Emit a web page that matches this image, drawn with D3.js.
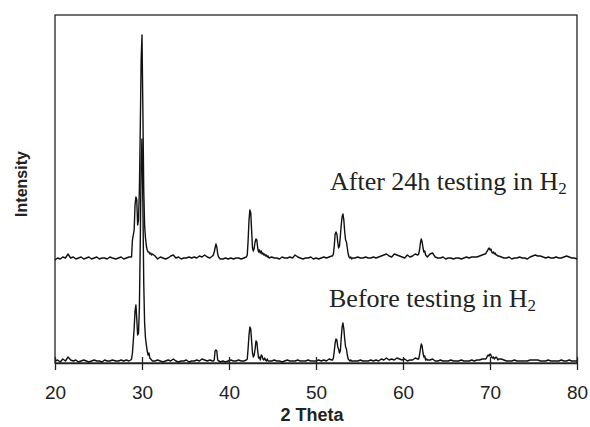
<!DOCTYPE html>
<html>
<head>
<meta charset="utf-8">
<script src="https://cdn.jsdelivr.net/npm/d3@7"></script>
<style>
  body { margin: 0; background: #fff; }
  svg { display: block; }
</style>
</head>
<body>
<div id="chart"></div>
<script>
// 2 theta grid (coarse on the background, finer around the peaks)
const twoTheta = [
  20.0, 20.3, 20.6, 20.9, 21.2, 21.5, 21.8, 22.1, 22.4, 22.7, 23.0, 23.3, 23.6, 23.9, 24.2,
  24.5, 24.8, 25.1, 25.4, 25.7, 26.0, 26.3, 26.6, 27.0, 27.3, 27.6, 27.9, 28.2, 28.5, 28.7,
  28.8, 28.9, 29.0, 29.1, 29.2, 29.3, 29.4, 29.5, 29.6, 29.7, 29.8, 29.9, 30.0, 30.1, 30.2,
  30.3, 30.4, 30.5, 30.6, 30.7, 30.8, 30.9, 31.0, 31.1, 31.2,
  31.5, 31.8, 32.1, 32.4, 32.7, 33.0, 33.3, 33.6, 33.9, 34.2, 34.5, 34.8, 35.1, 35.4, 35.7,
  36.0, 36.3, 36.6, 36.9, 37.2, 37.5, 37.8, 38.1,
  38.2, 38.3, 38.4, 38.5, 38.6, 38.7, 38.8, 38.9, 39.0,
  39.3, 39.6, 39.9, 40.2, 40.5, 40.8, 41.1, 41.4, 41.7, 42.0,
  42.1, 42.2, 42.3, 42.4, 42.5, 42.6, 42.7, 42.8, 42.9, 43.0, 43.1, 43.2, 43.3, 43.4, 43.5,
  43.6, 43.7, 43.8, 43.9, 44.0, 44.1, 44.2, 44.3, 44.4, 44.5, 44.6,
  44.9, 45.2, 45.5, 45.8, 46.1, 46.4, 46.7, 47.0, 47.3, 47.6, 47.9, 48.2, 48.5, 48.8, 49.1,
  49.4, 49.7, 50.0, 50.3, 50.6, 50.9, 51.2, 51.5, 51.8,
  51.9, 52.0, 52.1, 52.2, 52.3, 52.4, 52.5, 52.6, 52.7, 52.8, 52.9, 53.0, 53.1, 53.2, 53.3,
  53.4, 53.5, 53.6, 53.7, 53.8, 53.9, 54.0, 54.1, 54.2,
  54.5, 54.8, 55.1, 55.4, 55.7, 56.0, 56.3, 56.6, 56.9, 57.2, 57.5, 57.8, 58.1, 58.4, 58.7,
  59.0, 59.3, 59.6, 59.9, 60.2, 60.5, 60.8, 61.1, 61.4, 61.7,
  61.8, 61.9, 62.0, 62.1, 62.2, 62.3, 62.4, 62.5, 62.6, 62.7, 62.8,
  63.1, 63.4, 63.7, 64.0, 64.3, 64.6, 64.9, 65.2, 65.5, 65.8, 66.1, 66.4, 66.7, 67.0, 67.3,
  67.6, 67.9, 68.2, 68.5, 68.8, 69.1, 69.4,
  69.5, 69.6, 69.7, 69.8, 69.9, 70.0, 70.1, 70.2, 70.3, 70.4, 70.5, 70.6, 70.7, 70.8, 70.9, 71.0,
  71.3, 71.6, 71.9, 72.2, 72.5, 72.8, 73.1, 73.4, 73.7, 74.0, 74.3, 74.6, 74.9, 75.2, 75.5,
  75.8, 76.1, 76.4, 76.7, 77.0, 77.3, 77.6, 77.9, 78.2, 78.5, 78.8, 79.1, 79.4, 79.7, 80.0
];

// intensity before testing (arbitrary units)
const beforeCounts = [
  2, 3, 1, 4, 2, 6, 3, 2, 3, 1, 2, 3, 2, 1, 2,
  3, 2, 2, 1, 3, 2, 2, 3, 2, 2, 3, 2, 3, 2, 3,
  4, 10, 22, 35, 52, 58, 44, 28, 30, 55, 120, 200, 224, 160, 80,
  40, 25, 18, 12, 8, 10, 5, 4, 3, 2,
  2, 3, 2, 1, 2, 3, 2, 4, 2, 1, 2, 2, 3, 1, 2,
  2, 3, 2, 4, 3, 2, 3, 2,
  2, 3, 12, 13, 12, 3, 2, 2, 1,
  2, 1, 2, 3, 2, 2, 3, 2, 2, 3,
  4, 15, 28, 36, 34, 22, 10, 6, 8, 14, 22, 21, 12, 5, 6,
  3, 8, 7, 4, 3, 5, 3, 2, 4, 2, 2,
  2, 3, 2, 2, 1, 2, 3, 2, 2, 2, 3, 2, 2, 2, 3,
  2, 2, 2, 3, 2, 3, 2, 4, 3,
  3, 5, 12, 20, 24, 23, 16, 14, 10, 12, 25, 36, 40, 34, 24,
  16, 14, 8, 4, 3, 2, 3, 2, 2,
  2, 2, 3, 2, 2, 2, 3, 2, 3, 2, 4, 3, 5, 3, 4,
  3, 5, 4, 3, 4, 2, 3, 3, 5, 4,
  4, 8, 14, 19, 17, 10, 6, 7, 3, 4, 3,
  3, 4, 2, 2, 3, 2, 2, 2, 3, 2, 2, 2, 3, 2, 2,
  2, 3, 2, 3, 3, 4, 4,
  4, 5, 7, 8, 7, 9, 8, 6, 5, 6, 4, 5, 6, 5, 3, 4,
  4, 3, 2, 2, 2, 3, 2, 2, 2, 2, 2, 3, 3, 3, 3,
  2, 2, 2, 3, 2, 2, 2, 2, 3, 2, 2, 3, 2, 2, 2
];

// intensity after 24h testing in H2 (arbitrary units, before stacking)
const afterCounts = [
  0, 2, 1, 3, 2, 6, 2, 3, 1, 2, 3, 1, 2, 3, 1,
  2, 3, 1, 2, 2, 1, 3, 2, 1, 2, 3, 1, 2, 3, 3,
  3, 20, 25, 30, 55, 63, 60, 35, 40, 70, 130, 200, 225, 150, 70,
  35, 22, 14, 10, 8, 8, 6, 7, 5, 6,
  4, 1, 3, 2, 1, 2, 4, 5, 2, 3, 1, 2, 2, 3, 2,
  3, 2, 4, 3, 5, 3, 2, 4,
  5, 8, 12, 16, 13, 6, 3, 2, 1,
  1, 2, 1, 2, 1, 2, 2, 1, 2, 3,
  5, 20, 40, 50, 47, 30, 12, 9, 12, 18, 21, 20, 12, 8, 10,
  7, 9, 6, 7, 5, 6, 4, 5, 3, 4, 2,
  3, 2, 2, 1, 3, 2, 2, 3, 2, 5, 3, 2, 1, 2, 2,
  3, 1, 2, 1, 2, 3, 2, 3, 4,
  4, 6, 14, 26, 28, 26, 18, 12, 14, 24, 35, 43, 46, 40, 28,
  20, 18, 12, 6, 3, 2, 3, 1, 2,
  2, 3, 2, 2, 3, 2, 2, 3, 2, 3, 4, 5, 6, 4, 3,
  6, 5, 4, 3, 2, 5, 3, 4, 6, 5,
  6, 10, 17, 21, 18, 12, 8, 9, 5, 4, 3,
  6, 7, 3, 2, 2, 3, 1, 2, 2, 1, 2, 2, 1, 2, 3,
  2, 3, 3, 3, 4, 5, 6,
  6, 8, 9, 11, 12, 10, 11, 8, 7, 8, 6, 7, 5, 5, 4, 4,
  3, 2, 2, 3, 1, 2, 2, 3, 2, 2, 1, 3, 4, 5, 4,
  4, 3, 2, 3, 2, 2, 3, 2, 2, 3, 4, 3, 2, 2, 1
];

const afterOffset = 103;   // vertical stacking of the second pattern
const xTicks = [20, 30, 40, 50, 60, 70, 80];
const labelBefore = 'Before testing in H';
const labelAfter = 'After 24h testing in H';
const xTitle = '2 Theta';
const yTitle = 'Intensity';

const width = 590, height = 427;
const margin = { top: 15, right: 13, bottom: 64, left: 55 };
const innerW = width - margin.left - margin.right;
const innerH = height - margin.top - margin.bottom;

const svg = d3.select('#chart')
    .append('svg')
    .attr('width', width)
    .attr('height', height);

const g = svg.append('g')
    .attr('transform', `translate(${margin.left},${margin.top})`);

const x = d3.scaleLinear().domain([20, 80]).range([0, innerW]);
const y = d3.scaleLinear().domain([0, 348]).range([innerH, 0]);

// frame
g.append('rect')
    .attr('x', 0).attr('y', 0)
    .attr('width', innerW).attr('height', innerH)
    .attr('fill', 'none')
    .attr('stroke', '#222')
    .attr('stroke-width', 1.3);

// traces
const line = d3.line()
    .x((d, i) => x(twoTheta[i]))
    .y(d => y(d));

g.append('path')
    .datum(beforeCounts)
    .attr('fill', 'none')
    .attr('stroke', '#111')
    .attr('stroke-width', 1.4)
    .attr('stroke-linejoin', 'round')
    .attr('d', line);

g.append('path')
    .datum(afterCounts.map(v => v + afterOffset))
    .attr('fill', 'none')
    .attr('stroke', '#111')
    .attr('stroke-width', 1.4)
    .attr('stroke-linejoin', 'round')
    .attr('d', line);

// x axis, ticks crossing the axis line
const xAxis = d3.axisBottom(x).tickValues(xTicks).tickSize(7).tickSizeOuter(0);
const ax = g.append('g')
    .attr('transform', `translate(0,${innerH})`)
    .call(xAxis);
ax.select('.domain').attr('stroke', '#222').attr('stroke-width', 1.3);
ax.selectAll('.tick line')
    .attr('y1', -6).attr('y2', 7)
    .attr('stroke', '#222').attr('stroke-width', 1.3);
ax.selectAll('.tick text')
    .attr('y', 36).attr('dy', 0)
    .attr('fill', '#222')
    .style('font-family', 'Liberation Sans, Arial, sans-serif')
    .style('font-size', '19px');

// axis titles
svg.append('text')
    .attr('x', 312).attr('y', 421)
    .attr('text-anchor', 'middle')
    .style('font-family', 'Liberation Sans, Arial, sans-serif')
    .style('font-weight', 'bold')
    .style('font-size', '18px')
    .attr('fill', '#222')
    .text(xTitle);

svg.append('text')
    .attr('transform', 'translate(27,184) rotate(-90)')
    .attr('text-anchor', 'middle')
    .style('font-family', 'Liberation Sans, Arial, sans-serif')
    .style('font-weight', 'bold')
    .style('font-size', '16px')
    .attr('fill', '#222')
    .text(yTitle);

// pattern labels
function patternLabel(txt, px, py) {
    const t = svg.append('text')
        .attr('x', px).attr('y', py)
        .style('font-family', 'Liberation Serif, Times New Roman, serif')
        .style('font-size', '26px')
        .attr('fill', '#222');
    t.append('tspan').text(txt);
    t.append('tspan').attr('dy', 4).style('font-size', '17px').text('2');
}
patternLabel(labelAfter, 330, 190);
patternLabel(labelBefore, 329, 307);
</script>
</body>
</html>
